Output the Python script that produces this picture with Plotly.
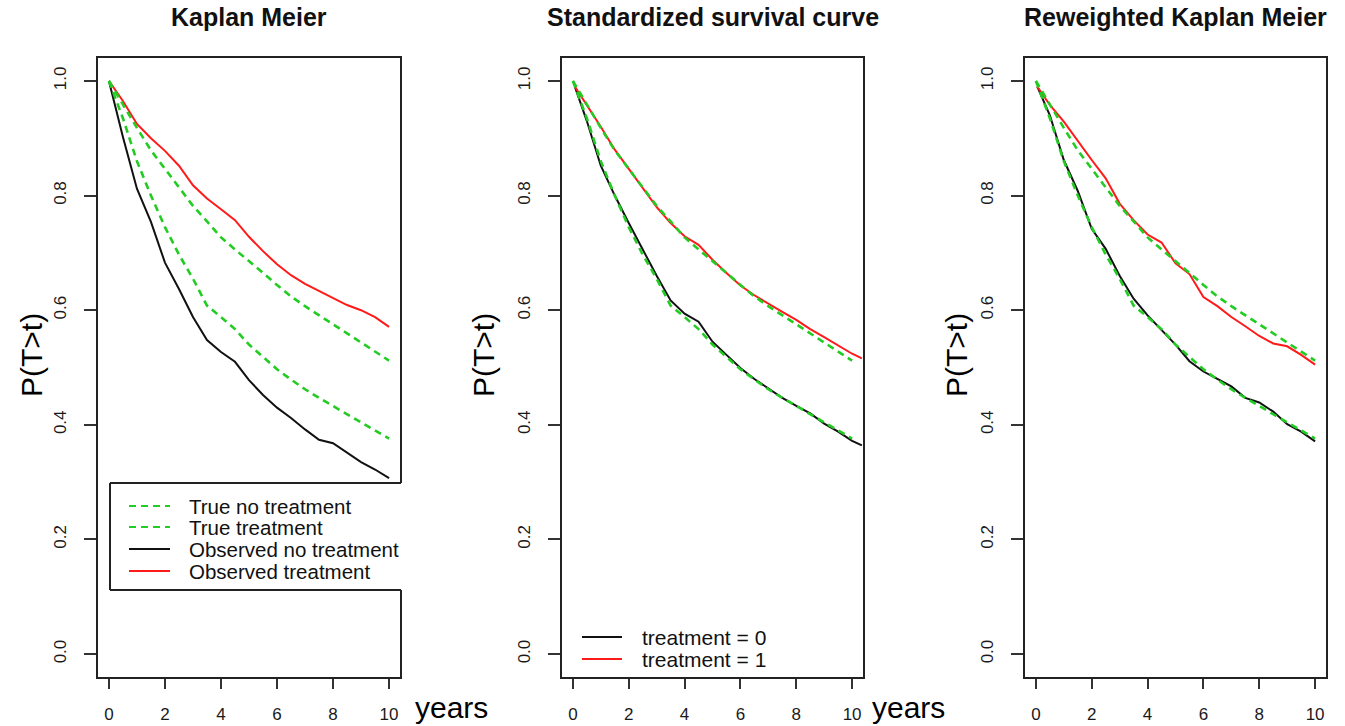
import plotly.graph_objects as go

W, H = 1345, 726
FONT = "Liberation Sans, Arial, sans-serif"

# ---------------- data ----------------
years = [0, 0.5, 1, 1.5, 2, 2.5, 3, 3.5, 4, 4.5, 5, 5.5, 6, 6.5, 7, 7.5, 8, 8.5, 9, 9.5, 10]

# true (simulated) survival curves, identical in all three panels
true_no_treatment = [1.0, 0.935, 0.860, 0.800, 0.745, 0.697, 0.655, 0.608, 0.588, 0.567, 0.540, 0.518,
                     0.497, 0.479, 0.462, 0.447, 0.433, 0.419, 0.404, 0.390, 0.376]
true_treatment = [1.0, 0.958, 0.918, 0.879, 0.847, 0.813, 0.782, 0.755, 0.727, 0.706, 0.686, 0.665,
                  0.644, 0.624, 0.607, 0.591, 0.575, 0.559, 0.544, 0.528, 0.512]

# panel 1: naive Kaplan Meier
km_no_treatment = [1.0, 0.902, 0.812, 0.754, 0.683, 0.637, 0.588, 0.548, 0.527, 0.510, 0.478, 0.452,
                   0.430, 0.412, 0.392, 0.374, 0.368, 0.352, 0.335, 0.322, 0.307]
km_treatment = [1.0, 0.965, 0.925, 0.900, 0.878, 0.852, 0.818, 0.795, 0.776, 0.757, 0.728, 0.703,
                0.680, 0.661, 0.646, 0.634, 0.622, 0.609, 0.600, 0.588, 0.571]

# panel 2: standardized survival curve
std_years = [0.07, 0.5, 1, 1.5, 2, 2.5, 3, 3.5, 4, 4.5, 5, 5.5, 6, 6.5, 7, 7.5, 8, 8.5, 9, 9.5, 10, 10.35]
std_treatment_0 = [0.990, 0.930, 0.852, 0.800, 0.752, 0.706, 0.660, 0.617, 0.594, 0.580, 0.545, 0.522,
                   0.499, 0.480, 0.463, 0.447, 0.433, 0.420, 0.402, 0.388, 0.372, 0.364]
std_treatment_1 = [0.990, 0.958, 0.920, 0.880, 0.846, 0.813, 0.780, 0.752, 0.729, 0.714, 0.688, 0.665,
                   0.643, 0.626, 0.611, 0.597, 0.583, 0.567, 0.553, 0.538, 0.524, 0.516]

# panel 3: reweighted Kaplan Meier
rw_years = [0.05, 0.5, 1, 1.5, 2, 2.5, 3, 3.5, 4, 4.5, 5, 5.5, 6, 6.5, 7, 7.5, 8, 8.5, 9, 9.5, 10]
rw_no_treatment = [0.990, 0.940, 0.862, 0.808, 0.742, 0.707, 0.660, 0.620, 0.591, 0.566, 0.540, 0.511,
                   0.493, 0.480, 0.467, 0.447, 0.439, 0.423, 0.401, 0.388, 0.371]
rw_treatment = [0.990, 0.958, 0.929, 0.895, 0.862, 0.830, 0.786, 0.757, 0.732, 0.718, 0.682, 0.663,
                0.623, 0.607, 0.588, 0.572, 0.555, 0.542, 0.537, 0.522, 0.505]

x_ticks = [0, 2, 4, 6, 8, 10]
y_ticks = [0.0, 0.2, 0.4, 0.6, 0.8, 1.0]
y_tick_labels = ["0.0", "0.2", "0.4", "0.6", "0.8", "1.0"]

titles = ["Kaplan Meier", "Standardized survival curve", "Reweighted Kaplan Meier"]
legend1_labels = ["True no treatment", "True treatment", "Observed no treatment", "Observed treatment"]
legend2_labels = ["treatment = 0", "treatment = 1"]

BLACK = "#111111"
RED = "#ff1a1a"
GREEN = "#22cc22"

# ---------------- layout geometry (pixels) ----------------
panels = [(98, 400), (562, 863), (1025, 1326)]
box_top, box_bottom = 58, 677


def fx(p):
    return p / W


def fy(p):
    return 1 - p / H


fig = go.Figure()

solid = dict(width=2)
dashed = dict(width=2.6, dash="7px,5px")

curve_sets = [
    [(years, km_no_treatment, BLACK, solid, "Observed no treatment"),
     (years, km_treatment, RED, solid, "Observed treatment"),
     (years, true_no_treatment, GREEN, dashed, "True no treatment"),
     (years, true_treatment, GREEN, dashed, "True treatment")],
    [(std_years, std_treatment_0, BLACK, solid, "treatment = 0"),
     (std_years, std_treatment_1, RED, solid, "treatment = 1"),
     (years, true_no_treatment, GREEN, dashed, "True no treatment"),
     (years, true_treatment, GREEN, dashed, "True treatment")],
    [(rw_years, rw_no_treatment, BLACK, solid, "Reweighted no treatment"),
     (rw_years, rw_treatment, RED, solid, "Reweighted treatment"),
     (years, true_no_treatment, GREEN, dashed, "True no treatment"),
     (years, true_treatment, GREEN, dashed, "True treatment")],
]

for i, curves in enumerate(curve_sets):
    suf = "" if i == 0 else str(i + 1)
    for xs, ys, col, style, name in curves:
        fig.add_trace(go.Scatter(x=xs, y=ys, mode="lines", name=name, showlegend=False,
                                 line=dict(color=col, **style),
                                 xaxis="x" + suf, yaxis="y" + suf, hoverinfo="skip"))

axis_common = dict(showgrid=False, zeroline=False, showline=True, linecolor="#222222", linewidth=2,
                   mirror=True, ticks="outside", tickcolor="#333333", tickwidth=2,
                   tickfont=dict(family=FONT, size=17, color="#1a1a1a"))

for i, (l, r) in enumerate(panels):
    suf = "" if i == 0 else str(i + 1)
    fig.layout["xaxis" + suf] = dict(axis_common, domain=[fx(l), fx(r)], range=[-0.39, 10.39],
                                     tickvals=x_ticks, ticklen=10, ticklabelstandoff=11,
                                     anchor="y" + suf)
    fig.layout["yaxis" + suf] = dict(axis_common, domain=[fy(box_bottom), fy(box_top)],
                                     range=[-0.04, 1.04], tickvals=y_ticks, ticktext=y_tick_labels,
                                     tickangle=-90, ticklen=12, ticklabelstandoff=11,
                                     anchor="x" + suf)

annotations = []
shapes = []

# titles
for (l, r), title in zip(panels, titles):
    annotations.append(dict(x=fx((l + r) / 2), y=fy(17), xref="paper", yref="paper",
                            text="<b>" + title + "</b>", showarrow=False,
                            font=dict(family=FONT, size=25, color="#111111"),
                            xanchor="center", yanchor="middle"))

# y labels
for xc in [31, 483, 956]:
    annotations.append(dict(x=fx(xc), y=fy(355), xref="paper", yref="paper", text="P(T>t)",
                            textangle=-90, showarrow=False,
                            font=dict(family=FONT, size=30, color="#000000"),
                            xanchor="center", yanchor="middle"))

# "years" labels
for xc in [451, 908]:
    annotations.append(dict(x=fx(xc), y=fy(707), xref="paper", yref="paper", text="years",
                            showarrow=False, font=dict(family=FONT, size=30, color="#000000"),
                            xanchor="center", yanchor="middle"))

# legend of panel 1 (boxed, right edge clipped by the plot region)
shapes.append(dict(type="rect", xref="paper", yref="paper", x0=fx(110), x1=fx(403),
                   y0=fy(590), y1=fy(483), fillcolor="white", line=dict(width=0), layer="above"))
for (x0, y0, x1, y1) in [(110, 483, 110, 590), (110, 483, 401, 483), (110, 590, 401, 590)]:
    shapes.append(dict(type="line", xref="paper", yref="paper", x0=fx(x0), x1=fx(x1),
                       y0=fy(y0), y1=fy(y1), line=dict(color="#222222", width=2), layer="above"))
leg1_styles = [(GREEN, "7px,5px"), (GREEN, "7px,5px"), (BLACK, "solid"), (RED, "solid")]
for yy, lab, (col, dash) in zip([506, 527, 549, 571], legend1_labels, leg1_styles):
    shapes.append(dict(type="line", xref="paper", yref="paper", x0=fx(129), x1=fx(170),
                       y0=fy(yy), y1=fy(yy), line=dict(color=col, width=2, dash=dash), layer="above"))
    annotations.append(dict(x=fx(187), y=fy(yy), xref="paper", yref="paper", text=lab,
                            showarrow=False, font=dict(family=FONT, size=20.5, color="#111111"),
                            xanchor="left", yanchor="middle"))

# legend of panel 2 (no box)
for yy, lab, col in zip([637, 659], legend2_labels, [BLACK, RED]):
    shapes.append(dict(type="line", xref="paper", yref="paper", x0=fx(582), x1=fx(622),
                       y0=fy(yy), y1=fy(yy), line=dict(color=col, width=2), layer="above"))
    annotations.append(dict(x=fx(640), y=fy(yy), xref="paper", yref="paper", text=lab,
                            showarrow=False, font=dict(family=FONT, size=21, color="#111111"),
                            xanchor="left", yanchor="middle"))

fig.update_layout(width=W, height=H, margin=dict(l=0, r=0, t=0, b=0),
                  paper_bgcolor="white", plot_bgcolor="white", showlegend=False,
                  annotations=annotations, shapes=shapes)

fig.write_html("out.html", config={"displayModeBar": False},
               post_script="document.body.style.margin='0';document.body.style.padding='0';"
                           "document.body.style.overflow='hidden';")
